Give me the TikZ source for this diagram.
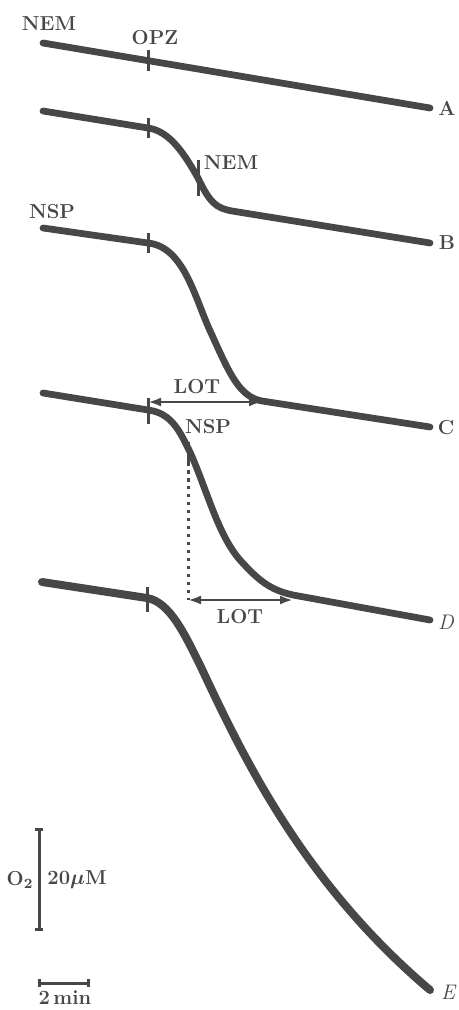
\documentclass[tikz,border=0pt]{standalone}
\usepackage{tikz}
\usetikzlibrary{calc,arrows.meta}
\definecolor{ink}{gray}{0.28}

\begin{document}
\begin{tikzpicture}[x=0.02cm, y=-0.02cm,
		trace/.style={line width=1.35mm, color=ink, line cap=round},
		ticker/.style={line width=0.6mm, color=ink},
		lotarrow/.style={{Latex[length=2.6mm,width=1.8mm]}-{Latex[length=2.6mm,width=1.8mm]}, line width=0.5mm, color=ink},
		scalebar/.style={{Bar[width=1.6mm]}-{Bar[width=1.6mm]}, line width=0.6mm, color=ink},
		lab/.style={text=ink, inner sep=0pt, font=\fontsize{11.5}{13}\selectfont\bfseries\boldmath}]
			%%%%% START %%%%%
			\useasboundingbox (0, 0) rectangle (459, 1010);
			
			\coordinate (tA) at (148, 61);
			\coordinate (tB) at (148, 128);
			\coordinate (tC) at (148, 243);
			\coordinate (tD) at (148, 410);
			\coordinate (tE) at (147, 598);
			\coordinate (nemTick) at (198, 178);
			\coordinate (nspTick) at (190, 452);
			\coordinate (flatC) at (262, 401);
			\coordinate (flatD) at (293, 595);
			
			\draw[trace] (43, 43) -- (430, 108);
			\draw[ticker] ($(tA)+(0,-11)$) -- ($(tA)+(0,10)$);
			
			\draw[trace] (43, 111) -- (tB) .. controls (170, 131) and (185, 155) .. (nemTick) .. controls (210, 203) and (216, 208) .. (232, 211) -- (430, 243);
			\draw[ticker] ($(tB)+(0,-10)$) -- ($(tB)+(0,10)$);
			\draw[ticker] (198, 160) -- (198, 196);
			
			\draw[trace] (43, 228) -- (tC) .. controls (185, 247) and (195, 300) .. (212, 335) .. controls (230, 375) and (240, 397) .. (flatC) -- (430, 427);
			\draw[ticker] ($(tC)+(0,-10)$) -- ($(tC)+(0,10)$);
			
			\draw[trace] (43, 393) -- (tD) .. controls (172, 413) and (180, 432) .. (nspTick) .. controls (207, 490) and (218, 535) .. (240, 560) .. controls (258, 580) and (270, 590) .. (flatD) -- (430, 620);
			\draw[ticker] ($(tD)+(0,-12)$) -- ($(tD)+(0,14)$);
			\draw[ticker] (188, 442) -- (188, 462);
			\draw[line width=0.6mm, color=ink, dash pattern=on 0.07cm off 0.09cm] (188, 462) -- (188, 600);
			
			\draw[trace, line width=1.6mm] (42, 582) -- (tE) .. controls (170, 602) and (185, 635) .. (200, 665) .. controls (240, 750) and (300, 880) .. (430, 990);
			\draw[ticker] ($(tE)+(0,-11)$) -- ($(tE)+(0,14)$);
			
			\draw[lotarrow] (148, 402) -- (flatC |- 0, 402);
			\draw[lotarrow] (188, 600) -- (flatD |- 0, 600);
			
			\draw[scalebar] (39, 828) -- (39, 931);
			\draw[scalebar] (38, 983) -- (90, 983);
			
			\node[lab] (nemA) at (49, 24) {NEM};
			\node[lab] (opz) at (155, 38) {OPZ};
			\node[lab] (nemB) at (231, 163) {NEM};
			\node[lab] (nspC) at (52, 212) {NSP};
			\node[lab] (lotC) at (197, 387) {LOT};
			\node[lab] (nspD) at (208, 427) {NSP};
			\node[lab] (lotD) at (240, 617) {LOT};
			
			\node[lab] (endA) at (447, 108) {A};
			\node[lab] (endB) at (447, 243) {B};
			\node[lab] (endC) at (446, 428) {C};
			\node[lab, font=\fontsize{12}{13}\selectfont\itshape] (endD) at (446, 622) {D};
			\node[lab, font=\fontsize{12}{13}\selectfont\itshape] (endE) at (448, 992) {E};
			
			\node[lab] (oxy) at (20, 880) {O$_2$};
			\node[lab] (conc) at (77, 880) {20$\mu$M};
			\node[lab] (time) at (65, 998) {2\,min};
			%%%%% END %%%%%
		\end{tikzpicture}
\end{document}
